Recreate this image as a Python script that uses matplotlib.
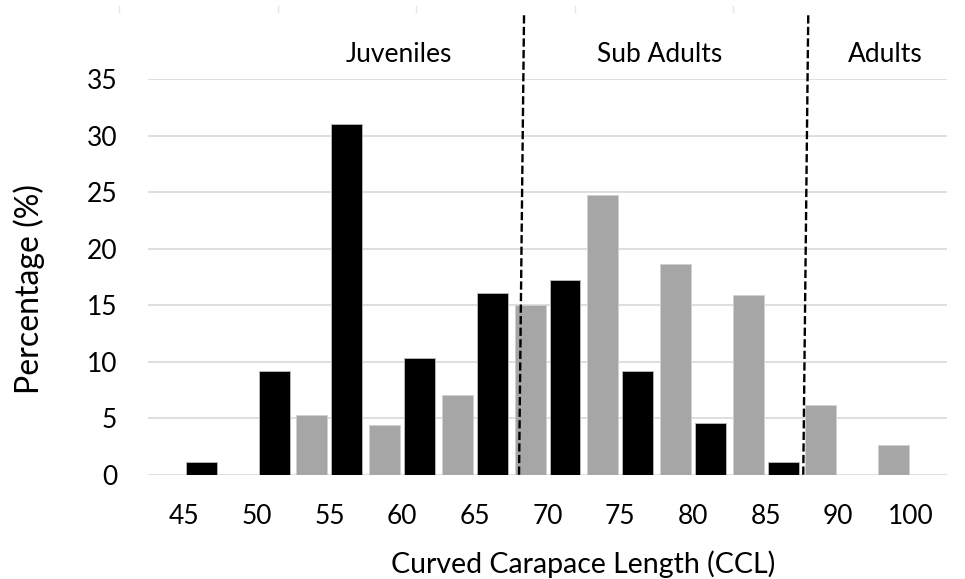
import matplotlib
matplotlib.use("Agg")
import matplotlib.pyplot as plt
from matplotlib.lines import Line2D

plt.rcParams['font.family'] = ['Lato', 'DejaVu Sans']

categories = ['45', '50', '55', '60', '65', '70', '75', '80', '85', '90', '100']
gray_vals = [0, 0, 5.25, 4.4, 7.05, 15.0, 24.7, 18.6, 15.9, 6.15, 2.65]
black_vals = [1.1, 9.2, 31.0, 10.3, 16.1, 17.2, 9.2, 4.55, 1.1, 0, 0]
y_ticks = [0, 5, 10, 15, 20, 25, 30, 35]
stage_names = ['Juveniles', 'Sub Adults', 'Adults']

fig = plt.figure(figsize=(9.65, 5.79), dpi=100)
ax = fig.add_axes([0.153, 0.1801, 0.8288, 0.6835])

idx = list(range(len(categories)))
w = 0.426
off = 0.24
ax.bar([i - off for i in idx], gray_vals, width=w, color='#A6A6A6',
       edgecolor='#D0D0D0', linewidth=0.6, zorder=3)
ax.bar([i + off for i in idx], black_vals, width=w, color='#000000',
       edgecolor='#BBBBBB', linewidth=0.6, zorder=3)

ax.set_xlim(-0.5, len(categories) - 0.5)
ax.set_ylim(0, 35)
ax.set_yticks(y_ticks)
ax.set_xticks(idx)
ax.set_xticklabels(categories)
ax.tick_params(axis='both', length=0, labelsize=19, colors='#000000')
ax.tick_params(axis='x', pad=21)
ax.tick_params(axis='y', pad=22)
ax.grid(axis='y', color='#D9D9D9', linewidth=1.2, zorder=0)
ax.set_axisbelow(True)
for s in ax.spines.values():
    s.set_visible(False)

# stage boundaries (dashed, slightly slanted)
for (xb, xt) in [(4.608, 4.677), (8.517, 8.586)]:
    ax.add_line(Line2D([xb, xt], [0, 40.85], color='black', linewidth=1.7,
                       dashes=(3.5, 1.4), clip_on=False, zorder=4))

for name, xc in zip(stage_names, [2.955, 6.54, 9.64]):
    ax.text(xc, 36.5, name, ha='center', va='baseline', fontsize=19,
            clip_on=False)

fig.text(583 / 965, 1 - 573 / 579, 'Curved Carapace Length (CCL)',
         ha='center', va='baseline', fontsize=20.5)
fig.text(29 / 965, 1 - 289 / 579, 'Percentage (%)', rotation=90,
         ha='center', va='center', fontsize=23)

# faint marks at top edge
for xp in [119, 278, 416, 575, 733]:
    fig.add_artist(Line2D([xp / 965, xp / 965], [1 - 6 / 579, 1 - 12 / 579],
                          color='#E6E6E6', linewidth=1.0))

fig.savefig('out.png', dpi=100, facecolor='white')
